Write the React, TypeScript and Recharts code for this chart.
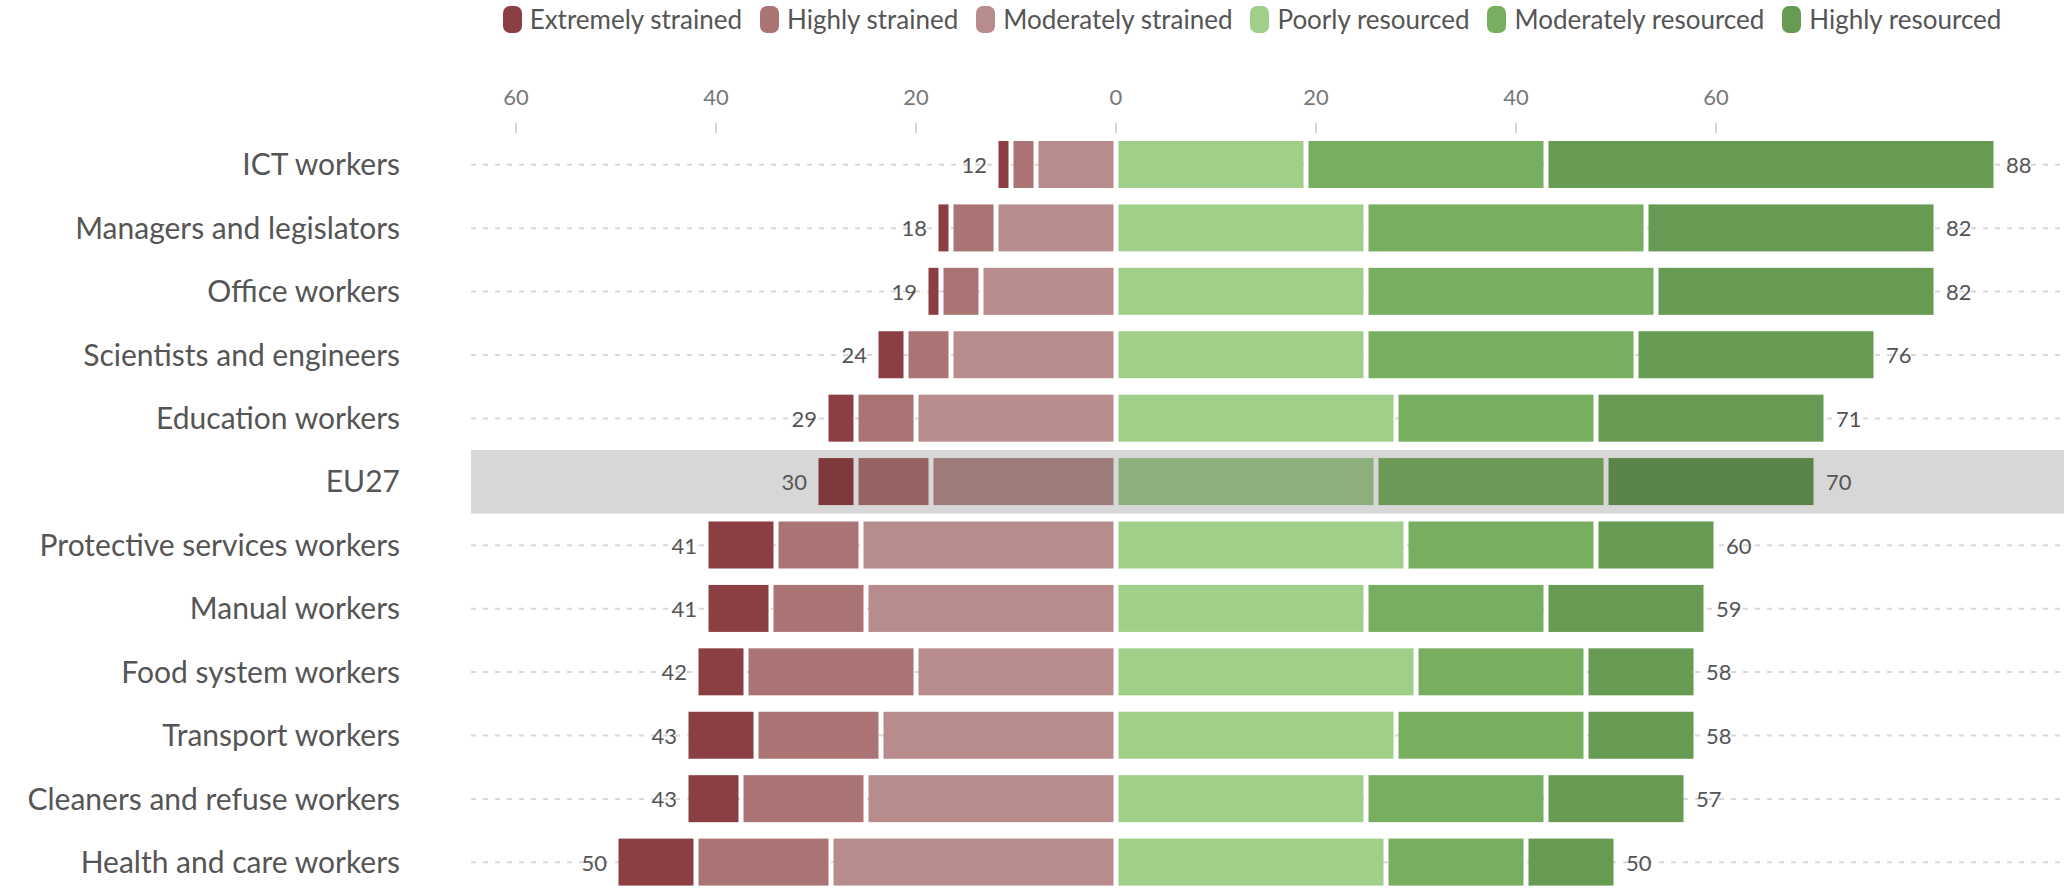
import { BarChart, Bar, XAxis, YAxis, CartesianGrid, ReferenceArea, LabelList } from 'recharts';

const categories = [
  'ICT workers',
  'Managers and legislators',
  'Office workers',
  'Scientists and engineers',
  'Education workers',
  'EU27',
  'Protective services workers',
  'Manual workers',
  'Food system workers',
  'Transport workers',
  'Cleaners and refuse workers',
  'Health and care workers',
];

const extremelyStrained = [1.5, 1.5, 1.5, 3, 3, 4, 7, 6.5, 5, 7, 5.5, 8];
const highlyStrained = [2.5, 4.5, 4, 4.5, 6, 7.5, 8.5, 9.5, 17, 12.5, 12.5, 13.5];
const moderatelyStrained = [8, 12, 13.5, 16.5, 20, 18.5, 25.5, 25, 20, 23.5, 25, 28.5];
const poorlyResourced = [19, 25, 25, 25, 28, 26, 29, 25, 30, 28, 25, 27];
const moderatelyResourced = [24, 28, 29, 27, 20, 23, 19, 18, 17, 19, 18, 14];
const highlyResourced = [45, 29, 28, 24, 23, 21, 12, 16, 11, 11, 14, 9];

const strainedTotals = [12, 18, 19, 24, 29, 30, 41, 41, 42, 43, 43, 50];
const resourcedTotals = [88, 82, 82, 76, 71, 70, 60, 59, 58, 58, 57, 50];

const xTicks = [-60, -40, -20, 0, 20, 40, 60];
const highlight = 'EU27';

// legend order, left to right
const series = [
  { key: 'extreme', name: 'Extremely strained', color: '#8c3f42', dim: '#7d393b' },
  { key: 'high', name: 'Highly strained', color: '#a97473', dim: '#956463' },
  { key: 'moderate', name: 'Moderately strained', color: '#b88c8c', dim: '#9e7a7a' },
  { key: 'poor', name: 'Poorly resourced', color: '#a0cf89', dim: '#8caf7b' },
  { key: 'modRes', name: 'Moderately resourced', color: '#78ae5f', dim: '#6a9a56' },
  { key: 'highRes', name: 'Highly resourced', color: '#679a52', dim: '#5b8449' },
];

const data = categories.map((name, i) => ({
  name,
  extreme: -extremelyStrained[i],
  high: -highlyStrained[i],
  moderate: -moderatelyStrained[i],
  poor: poorlyResourced[i],
  modRes: moderatelyResourced[i],
  highRes: highlyResourced[i],
  strainedTotal: strainedTotals[i],
  resourcedTotal: resourcedTotals[i],
}));

const FONT = 'Lato, sans-serif';

const segmentShape = (color: string, dim: string) => (props: any) => {
  const { x, y, width, height, index } = props;
  const x0 = Math.min(x, x + width);
  const w = Math.max(Math.abs(width) - 5, 0);
  const fill = data[index] && data[index].name === highlight ? dim : color;
  return <rect x={x0 + 2.5} y={y} width={w} height={height} fill={fill} />;
};

const leftLabel = (p: any) => {
  const vb = p.viewBox || p;
  const x = Math.min(vb.x, vb.x + vb.width);
  return (
    <text x={x - 9} y={vb.y + vb.height / 2} textAnchor="end" dominantBaseline="central" fontSize={22} fill="#555" fontFamily={FONT}>
      {p.value}
    </text>
  );
};

const rightLabel = (p: any) => {
  const vb = p.viewBox || p;
  const x = Math.max(vb.x, vb.x + vb.width);
  return (
    <text x={x + 10} y={vb.y + vb.height / 2} textAnchor="start" dominantBaseline="central" fontSize={22} fill="#555" fontFamily={FONT}>
      {p.value}
    </text>
  );
};

// only the row centre lines, not the plot edges
const rowLines = ({ offset }: any) => {
  if (!offset) return [];
  const band = offset.height / categories.length;
  return categories.map((_, i) => offset.top + band * (i + 0.5));
};

function Legend() {
  return (
    <div
      style={{
        position: 'absolute',
        left: 440,
        top: 3,
        width: 1624,
        display: 'flex',
        justifyContent: 'center',
        gap: 18,
        fontFamily: FONT,
        fontSize: 26,
        color: '#555',
      }}
    >
      {series.map((s) => (
        <div key={s.key} style={{ display: 'flex', alignItems: 'center', gap: 8 }}>
          <span style={{ width: 19, height: 27, borderRadius: 7, background: s.color, display: 'inline-block' }} />
          <span>{s.name}</span>
        </div>
      ))}
    </div>
  );
}

export default function App() {
  // strained series stack outward from zero, so moderate goes first
  const order = ['moderate', 'high', 'extreme', 'poor', 'modRes', 'highRes'];
  return (
    <div style={{ position: 'absolute', left: 0, top: 0, width: 2064, height: 894, background: '#fff' }}>
      <Legend />
      <BarChart
        width={2064}
        height={894}
        data={data}
        layout="vertical"
        stackOffset="sign"
        margin={{ top: 0, right: 0, bottom: 0, left: 0 }}
      >
        <ReferenceArea y1={highlight} y2={highlight} fill="#d7d7d7" fillOpacity={1} stroke="none" ifOverflow="extendDomain" />
        <CartesianGrid
          horizontal
          vertical={false}
          stroke="#d8d8d8"
          strokeWidth={2}
          strokeDasharray="5 7"
          horizontalCoordinatesGenerator={rowLines}
        />
        <XAxis
          type="number"
          orientation="top"
          domain={[-64.5, 94.8]}
          allowDataOverflow
          ticks={xTicks}
          tickFormatter={(v: number) => String(Math.abs(v))}
          height={133}
          axisLine={false}
          tickSize={10}
          tickMargin={18}
          tickLine={{ stroke: '#aaa' }}
          tick={{ fontSize: 22, fill: '#777', fontFamily: FONT }}
        />
        <YAxis
          type="category"
          dataKey="name"
          width={471}
          axisLine={false}
          tickLine={false}
          tickSize={0}
          tickMargin={71}
          interval={0}
          tick={{ fontSize: 30, fill: '#555', fontFamily: FONT }}
        />
        {order.map((k) => {
          const s = series.find((d) => d.key === k)!;
          return (
            <Bar
              key={k}
              dataKey={k}
              name={s.name}
              stackId="a"
              barSize={47}
              fill={s.color}
              shape={segmentShape(s.color, s.dim)}
              isAnimationActive={false}
            >
              {k === 'extreme' && <LabelList dataKey="strainedTotal" content={leftLabel} />}
              {k === 'highRes' && <LabelList dataKey="resourcedTotal" content={rightLabel} />}
            </Bar>
          );
        })}
      </BarChart>
    </div>
  );
}
